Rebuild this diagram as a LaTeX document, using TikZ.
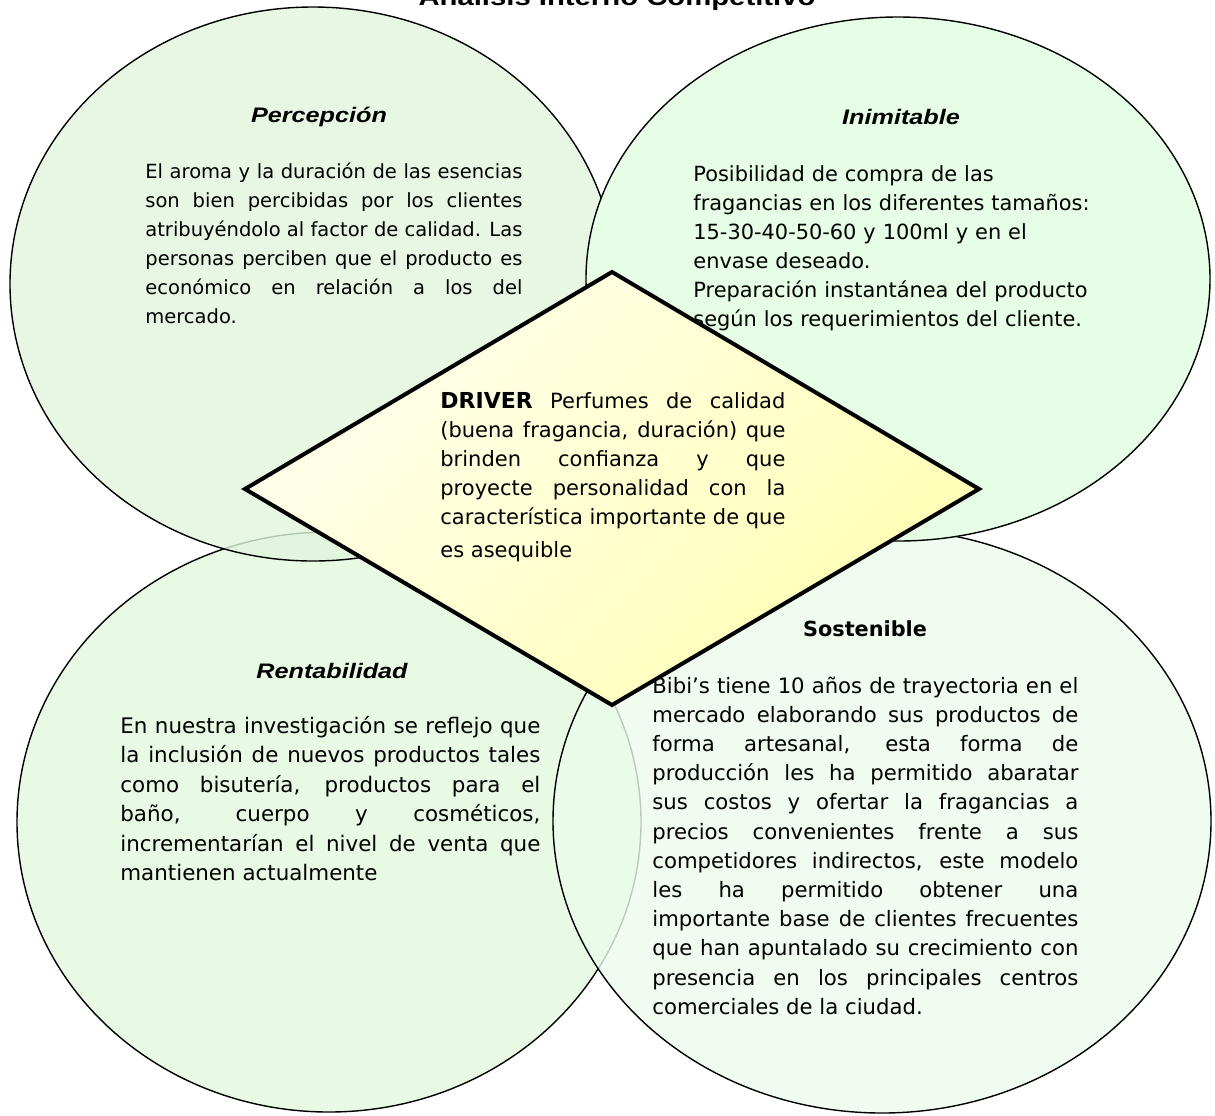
\documentclass[tikz,border=0pt]{standalone}
\usepackage{fontspec}
\setmainfont{DejaVu Sans}
\newfontfamily\headfont{Liberation Sans}[FakeStretch=1.2]
\hyphenpenalty=10000
\exhyphenpenalty=10000
\definecolor{tlgreen}{RGB}{225,246,222}
\definecolor{trgreen}{RGB}{230,253,230}
\definecolor{blgreen}{RGB}{232,249,228}
\definecolor{brgreen}{RGB}{236,252,236}
\definecolor{drvlight}{RGB}{255,255,238}
\definecolor{drvdark}{RGB}{255,255,180}
\tikzset{
  zone/.style={draw=black, line width=0.7pt},
  head/.style={inner sep=0pt, anchor=base, font=\headfont\bfseries\itshape\fontsize{10.5}{12}\selectfont},
  body/.style={inner sep=0pt, anchor=base west, align=justify},
}
\begin{document}
\begin{tikzpicture}[x=0.5pt, y=-0.5pt]
  \useasboundingbox (0,0) rectangle (1215,1115);
  \fill[white] (0,0) rectangle (1215,1115);
  \node[inner sep=0pt, anchor=base, font=\headfont\bfseries\fontsize{12.2}{14}\selectfont] (title) at (617,5) {Análisis Interno Competitivo};
  \filldraw[zone, fill=blgreen] (329,822) ellipse [x radius=312, y radius=290];
  \filldraw[zone, fill=brgreen, fill opacity=0.8] (882,821) ellipse [x radius=329, y radius=292];
  \filldraw[zone, fill=tlgreen, fill opacity=0.8] (313,284) ellipse [x radius=303, y radius=277];
  \filldraw[zone, fill=trgreen] (898,279) ellipse [x radius=312, y radius=262];
  \node[head] (perc) at (319,122) {Percepción};
  \node[body, text width=188.5pt, font=\fontsize{9.75}{14.5}\selectfont] (perctext) at (145,178)
    {El aroma y la duración de las esencias\linebreak son bien percibidas por los clientes\linebreak atribuyéndolo al factor de calidad. Las\linebreak personas perciben que el producto es\linebreak económico en relación a los del\linebreak mercado.};
  \node[head] (inim) at (901,124) {Inimitable};
  \node[body, text width=205pt, align=left, font=\fontsize{10.45}{14.5}\selectfont] (inimtext) at (693,181)
    {Posibilidad de compra de las\\ fragancias en los diferentes tamaños:\\ 15-30-40-50-60 y 100ml y en el\\ envase deseado.\\ Preparación instantánea del producto\\ según los requerimientos del cliente.};
  \node[head] (rent) at (332,678) {Rentabilidad};
  \node[body, text width=210pt, font=\fontsize{10.7}{14.75}\selectfont] (renttext) at (120,733)
    {En nuestra investigación se reflejo que\linebreak la inclusión de nuevos productos tales\linebreak como bisutería, productos para el\linebreak baño, cuerpo y cosméticos,\linebreak incrementarían el nivel de venta que\linebreak mantienen actualmente};
  \node[inner sep=0pt, anchor=base, font=\bfseries\fontsize{10.4}{12}\selectfont] (sost) at (865,636) {Sostenible};
  \node[body, text width=213pt, font=\fontsize{10.6}{14.6}\selectfont] (sosttext) at (652,693)
    {Bibi’s tiene 10 años de trayectoria en el\linebreak mercado elaborando sus productos de\linebreak forma artesanal, esta forma de\linebreak producción les ha permitido abaratar\linebreak sus costos y ofertar la fragancias a\linebreak precios convenientes frente a sus\linebreak competidores indirectos, este modelo\linebreak les ha permitido obtener una\linebreak importante base de clientes frecuentes\linebreak que han apuntalado su crecimiento con\linebreak presencia en los principales centros\linebreak comerciales de la ciudad.};
  \shade[top color=drvlight, bottom color=drvdark, shading angle=45] (612,272) -- (979,489) -- (612,705) -- (245,489) -- cycle;
  \draw[line width=2pt, line join=miter] (612,272) -- (979,489) -- (612,705) -- (245,489) -- cycle;
  \node[body, text width=172.5pt, font=\fontsize{10.5}{14.5}\selectfont] (driver) at (440,408)
    {{\fontsize{11}{14.5}\selectfont\bfseries DRIVER} Perfumes de calidad\linebreak (buena fragancia, duración) que\linebreak brinden confianza y que\linebreak proyecte personalidad con la\linebreak característica importante de que{\parfillskip=0pt\par}\vspace{2pt}{\fontsize{10.5}{14.5}\selectfont es asequible\par}};
\end{tikzpicture}
\end{document}
